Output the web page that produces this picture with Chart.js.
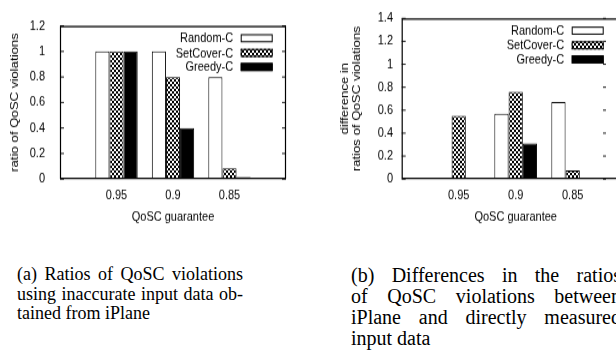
<!DOCTYPE html>
<html><head><meta charset="utf-8">
<script src="https://cdn.jsdelivr.net/npm/chart.js@4/dist/chart.umd.min.js"></script>
<style>
html,body{margin:0;padding:0;background:#fff}
body{width:616px;height:356px;overflow:hidden;position:relative}
#wa{position:absolute;left:0;top:0;width:310px;height:192px;transform:scaleY(1.2);transform-origin:0 0}
#wb{position:absolute;left:310px;top:0;width:306px;height:192px;overflow:hidden;transform:scaleY(1.2);transform-origin:0 0}
.cap{position:absolute;font-family:'Liberation Serif','Times New Roman',serif;color:#000}
.cap span{display:block;white-space:nowrap}
.cap span.j{text-align:justify;text-align-last:justify;white-space:normal}
</style></head>
<body>
<div id="wa"><canvas id="ca" width="310" height="192"></canvas></div>
<div id="wb"><canvas id="cb" width="330" height="192"></canvas></div>
<div class="cap" style="left:17px;top:265px;width:226px;font-size:18px;line-height:19.5px">
<span class="j">(a) Ratios of QoSC violations</span>
<span class="j">using inaccurate input data ob-</span>
<span>tained from iPlane</span>
</div>
<div class="cap" style="left:351px;top:264.5px;width:270px;font-size:20px;line-height:21px">
<span class="j">(b) Differences in the ratios</span>
<span class="j">of QoSC violations between</span>
<span class="j">iPlane and directly measured</span>
<span>input data</span>
</div>
<script>
// ---- data ----
const categories = ['0.95', '0.9', '0.85'];
const seriesNames = ['Random-C', 'SetCover-C', 'Greedy-C'];
// (a) ratios of QoSC violations
const ratioRandom   = [1.0, 1.0, 0.8];
const ratioSetCover = [1.0, 0.8, 0.085];
const ratioGreedy   = [1.0, 0.4, 0.015];
// (b) differences in ratios
const diffRandom    = [0.004, 0.57, 0.67];
const diffSetCover  = [0.55, 0.76, 0.075];
const diffGreedy    = [0.004, 0.31, 0.004];
const yTicksA = ['0', '0.2', '0.4', '0.6', '0.8', '1', '1.2'];
const yTicksB = ['0', '0.2', '0.4', '0.6', '0.8', '1', '1.2', '1.4'];
const xTitle = 'QoSC guarantee';
const yTitleA = 'ratio of QoSC violations';
const yTitleB = ['difference in', 'ratios of QoSC violations'];

const FONT = "'Liberation Sans', Arial, Helvetica, sans-serif";
Chart.defaults.font.family = FONT;
Chart.defaults.color = '#000';

function checker() {
  const c = document.createElement('canvas');
  c.width = 4; c.height = 4;
  const x = c.getContext('2d');
  x.fillStyle = '#fff'; x.fillRect(0, 0, 4, 4);
  x.fillStyle = '#000'; x.fillRect(0, 0, 2, 2); x.fillRect(2, 2, 2, 2);
  return x.createPattern(c, 'repeat');
}
const pat = checker();
const fills = ['#ffffff', pat, '#000000'];

const framePlugin = {
  id: 'frame',
  afterDatasetsDraw(chart, args, o) {
    const {ctx, chartArea: a} = chart;
    const y = chart.scales.y;
    ctx.save();
    ctx.strokeStyle = '#000';
    ctx.lineWidth = 1.2;
    ctx.beginPath();
    ctx.rect(a.left + 0.5, a.top + 0.5, a.right - a.left - 1, a.bottom - a.top - 1);
    ctx.stroke();
    ctx.lineWidth = 0.9;
    ctx.beginPath();
    y.ticks.forEach(t => {
      const py = y.getPixelForValue(t.value);
      ctx.moveTo(a.left, py); ctx.lineTo(a.left + 4, py);
      ctx.moveTo(a.right - 4, py); ctx.lineTo(a.right, py);
      if (o.extraTickX) { ctx.moveTo(o.extraTickX - 3, py); ctx.lineTo(o.extraTickX, py); }
    });
    ctx.stroke();
    // legend (top-right, inside the plot)
    ctx.font = '11px ' + FONT;
    ctx.textAlign = 'right';
    ctx.textBaseline = 'middle';
    const rows = [10.25, 22.5, 34.2];
    chart.data.datasets.forEach((ds, i) => {
      const cy = a.top + rows[i];
      const bx = a.left + o.boxX;
      ctx.fillStyle = ds.backgroundColor;
      ctx.fillRect(bx, cy - 3.4, 32, 6.8);
      ctx.strokeStyle = '#000';
      ctx.lineWidth = 1;
      ctx.strokeRect(bx + 0.5, cy - 2.9, 31, 5.8);
      ctx.fillStyle = '#000';
      ctx.fillText(ds.label, bx - 7.5, cy + 0.5);
    });
    ctx.restore();
  }
};

function makeChart(id, vals, yMax, yLabels, yTitle, cfg) {
  const labels = [''].concat(categories, ['']);
  const datasets = vals.map((v, i) => ({
    label: seriesNames[i],
    data: [null].concat(v, [null]),
    backgroundColor: fills[i],
    borderColor: '#000',
    borderWidth: 1,
    categoryPercentage: 0.75,
    barPercentage: 1.0
  }));
  return new Chart(document.getElementById(id), {
    type: 'bar',
    data: {labels, datasets},
    plugins: [framePlugin],
    options: {
      responsive: false,
      animation: false,
      devicePixelRatio: 1,
      layout: {padding: {top: 11.1, right: cfg.right, left: 0, bottom: 0}},
      plugins: {
        legend: {display: false},
        tooltip: {enabled: false},
        frame: {boxX: cfg.boxX, extraTickX: cfg.extraTickX}
      },
      scales: {
        x: {
          type: 'category',
          offset: false,
          grid: {display: false, drawTicks: false},
          border: {display: false},
          ticks: {font: {size: 11}, padding: 7.3, autoSkip: false, maxRotation: 0, color: '#000'},
          title: {display: true, text: xTitle, font: {size: 11}, color: '#000', padding: {top: 0, bottom: 4.3}},
          afterFit(s) { s.height = 42.8; }
        },
        y: {
          min: 0, max: yMax,
          grid: {display: false, drawTicks: false},
          border: {display: false},
          ticks: {stepSize: 0.2, font: {size: 11}, padding: cfg.tickPad, color: '#000',
                  callback: (v, i) => yLabels[i]},
          title: {display: true, text: yTitle, font: {size: 11, lineHeight: cfg.titleLH}, color: '#000',
                  padding: {top: cfg.titlePad, bottom: 0}},
          afterFit(s) { s.width = cfg.left; }
        }
      }
    }
  });
}

makeChart('ca', [ratioRandom, ratioSetCover, ratioGreedy], 1.2, yTicksA, yTitleA,
  {right: 24, left: 60, boxX: 180.7, tickPad: 15, titlePad: 8.4, titleLH: 1.2});
makeChart('cb', [diffRandom, diffSetCover, diffGreedy], 1.4, yTicksB, yTitleB,
  {right: 10.3, left: 91.7, boxX: 170, tickPad: 8.7, titlePad: 29.5, titleLH: 1.05, extraTickX: 296});
</script>
</body></html>
